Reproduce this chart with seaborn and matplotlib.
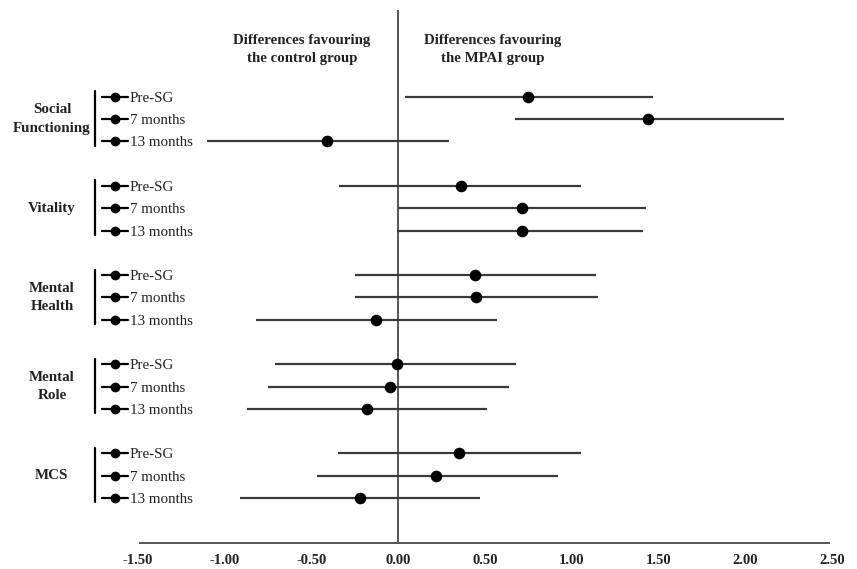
#                                   #
#   FOREST PLOT - MPAI vs CONTROL   #
#                                   #

import numpy as np
import pandas as pd
import matplotlib.pyplot as plt
from matplotlib import transforms
import seaborn as sns

# outcome groups and their time points
groups = ['Social\nFunctioning', 'Vitality', 'Mental\nHealth', 'Mental\nRole', 'MCS']
timepoints = ['Pre-SG', '7 months', '13 months']

# effect sizes (points) and confidence limits
effect = [0.75, 1.44, -0.41,
          0.36, 0.71, 0.71,
          0.44, 0.45, -0.13,
          -0.01, -0.05, -0.18,
          0.35, 0.22, -0.22]
lower = [0.04, 0.67, -1.10,
         -0.34, 0.00, -0.01,
         -0.25, -0.25, -0.82,
         -0.71, -0.75, -0.87,
         -0.35, -0.47, -0.91]
upper = [1.47, 2.22, 0.29,
         1.05, 1.43, 1.41,
         1.14, 1.15, 0.57,
         0.68, 0.64, 0.51,
         1.05, 0.92, 0.47]

xticks = [-1.5, -1.0, -0.5, 0.0, 0.5, 1.0, 1.5, 2.0, 2.5]
xtick_labels = ['-1.50', '-1.00', '-0.50', '0.00', '0.50', '1.00', '1.50', '2.00', '2.50']

# build a tidy frame, one blank row between the groups
rows = []
for g, group in enumerate(groups):
    for t, tp in enumerate(timepoints):
        i = g * 3 + t
        rows.append({'group': group, 'time': tp, 'row': g * 4 + t,
                     'effect': effect[i], 'lower': lower[i], 'upper': upper[i]})
df = pd.DataFrame(rows)

sns.set_theme(style='white')
plt.rcParams['font.family'] = ['Liberation Serif', 'DejaVu Serif']

fig = plt.figure(figsize=(8.57, 5.69), dpi=100)
ax = fig.add_axes([0.161, 0.0457, 0.81, 0.9367])

line_col = '#3a3a3a'
txt_col = '#222222'

# confidence intervals
ax.hlines(df['row'], df['lower'], df['upper'], color=line_col, lw=1.6, zorder=2)
# point estimates
sns.scatterplot(data=df, x='effect', y='row', ax=ax, color='black', s=70,
                edgecolor='black', linewidth=0, zorder=3, legend=False)

# line of no effect
ax.axvline(0, color='#555555', lw=1.4, zorder=1)

ax.set_xlim(-1.5, 2.5)
ax.set_ylim(20.02, -3.9)
ax.set_xticks(xticks)
ax.set_xticklabels(xtick_labels, fontweight='bold', fontsize=10.5)
ax.set_yticks([])
ax.set_xlabel('')
ax.set_ylabel('')
ax.tick_params(axis='x', length=0, pad=8, colors=txt_col)

for s in ['top', 'right', 'left']:
    ax.spines[s].set_visible(False)
ax.spines['bottom'].set_color('#555555')
ax.spines['bottom'].set_linewidth(1.4)
ax.spines['bottom'].set_bounds(-1.49, 2.48)

# labels on the left: axes fraction for x, data rows for y
trans = transforms.blended_transform_factory(ax.transAxes, ax.transData)
for _, r in df.iterrows():
    ax.plot([-0.0519, -0.0144], [r['row'], r['row']], transform=trans,
            color='black', lw=1.6, clip_on=False)
    ax.plot([-0.0331], [r['row']], transform=trans, marker='o', ms=6,
            color='black', clip_on=False)
    ax.text(-0.0115, r['row'], r['time'], transform=trans, ha='left',
            va='center_baseline', fontsize=10.8, color=txt_col)

for g, group in enumerate(groups):
    start = g * 4
    ax.plot([-0.062, -0.062], [start - 0.25, start + 2.2], transform=trans,
            color='black', lw=1.6, clip_on=False)
    ax.text(-0.124, start + 1, group, transform=trans, ha='center', va='center',
            fontsize=10.8, fontweight='bold', color=txt_col, linespacing=1.55)

# headers
ax.text(-0.555, -2.12, 'Differences favouring\nthe control group', ha='center',
        va='center', fontsize=10.7, fontweight='bold', color=txt_col, linespacing=1.55)
ax.text(0.543, -2.12, 'Differences favouring\nthe MPAI group', ha='center',
        va='center', fontsize=10.7, fontweight='bold', color=txt_col, linespacing=1.55)

plt.savefig('out.png', dpi=100)
